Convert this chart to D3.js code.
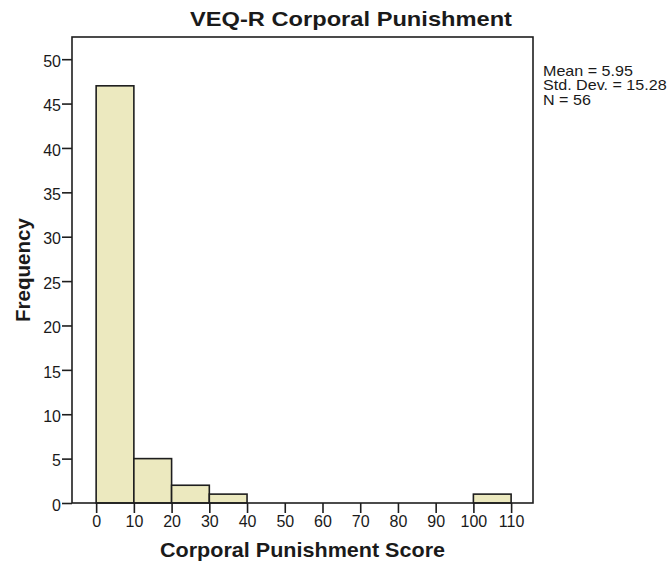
<!DOCTYPE html>
<html>
<head>
<meta charset="utf-8">
<script src="https://cdn.jsdelivr.net/npm/d3@7"></script>
<style>
  body { margin: 0; background: #fff; }
  text { font-family: "Liberation Sans", Arial, sans-serif; fill: #1a1a1a; }
</style>
</head>
<body>
<div class="chart"></div>
<script>
// histogram bins (lower edge, upper edge) and counts
const binStart = [0, 10, 20, 30, 100];
const binEnd = [10, 20, 30, 40, 110];
const counts = [47, 5, 2, 1, 1];
const xTicks = [0, 10, 20, 30, 40, 50, 60, 70, 80, 90, 100, 110];
const yTicks = [0, 5, 10, 15, 20, 25, 30, 35, 40, 45, 50];
const statLines = ["Mean = 5.95", "Std. Dev. = 15.28", "N = 56"];

const width = 668, height = 569;
// plot frame
const frameL = 72, frameR = 533, frameT = 37, frameB = 503;

var svg = d3.select(".chart")
  .append("svg")
    .attr("width", width)
    .attr("height", height);

var x = d3.scaleLinear().domain([-6.4, 115.8]).range([frameL, frameR]);
var y = d3.scaleLinear().domain([0, 52.5]).range([frameB, frameT]);

var bins = counts.map(function(c, i) { return {x0: binStart[i], x1: binEnd[i], n: c}; });

// bars
svg.selectAll("rect.bar")
  .data(bins)
  .enter()
  .append("rect")
    .attr("class", "bar")
    .attr("x", function(d) { return x(d.x0); })
    .attr("width", function(d) { return x(d.x1) - x(d.x0); })
    .attr("y", function(d) { return y(d.n); })
    .attr("height", function(d) { return y(0) - y(d.n); })
    .attr("fill", "#ece9bf")
    .attr("stroke", "#1e1e1e")
    .style("stroke-width", "1.6px");

// frame
svg.append("rect")
  .attr("x", frameL)
  .attr("y", frameT)
  .attr("width", frameR - frameL)
  .attr("height", frameB - frameT)
  .attr("fill", "none")
  .attr("stroke", "#1e1e1e")
  .style("stroke-width", "1.6px");

// x axis
var xAxis = svg.append("g")
  .attr("transform", "translate(0," + frameB + ")")
  .call(d3.axisBottom(x).tickValues(xTicks).tickSize(10).tickPadding(3).tickSizeOuter(0));
xAxis.select(".domain").remove();
xAxis.selectAll("line").attr("stroke", "#1e1e1e").style("stroke-width", "1.6px");
xAxis.selectAll("text").style("font-size", "16px").attr("fill", "#1a1a1a");

// y axis
var yAxis = svg.append("g")
  .attr("transform", "translate(" + frameL + ",0)")
  .call(d3.axisLeft(y).tickValues(yTicks).tickSize(10).tickPadding(1).tickSizeOuter(0));
yAxis.select(".domain").remove();
yAxis.selectAll("line").attr("stroke", "#1e1e1e").style("stroke-width", "1.6px");
yAxis.selectAll("text").style("font-size", "16px").attr("fill", "#1a1a1a").attr("dy", "0.45em");

// title (the scanned original is a bit wider than the font, so stretch it)
svg.append("text")
  .attr("x", 351)
  .attr("y", 26)
  .attr("text-anchor", "middle")
  .attr("textLength", 322)
  .attr("lengthAdjust", "spacingAndGlyphs")
  .style("font-size", "21px")
  .style("font-weight", "bold")
  .text("VEQ-R Corporal Punishment");

// axis titles
svg.append("text")
  .attr("x", (frameL + frameR) / 2)
  .attr("y", 557)
  .attr("text-anchor", "middle")
  .attr("textLength", 285)
  .attr("lengthAdjust", "spacingAndGlyphs")
  .style("font-size", "21px")
  .style("font-weight", "bold")
  .text("Corporal Punishment Score");

svg.append("text")
  .attr("transform", "translate(30," + (frameT + frameB) / 2 + ") rotate(-90)")
  .attr("text-anchor", "middle")
  .attr("textLength", 104)
  .attr("lengthAdjust", "spacingAndGlyphs")
  .style("font-size", "21px")
  .style("font-weight", "bold")
  .text("Frequency");

// stats box
var stats = svg.append("g")
  .attr("transform", "translate(543,0) scale(1.15,1)");
stats.selectAll("text.stat")
  .data(statLines)
  .enter()
  .append("text")
    .attr("class", "stat")
    .attr("x", 0)
    .attr("y", function(d, i) { return 76 + i * 14.5; })
    .style("font-size", "14px")
    .text(function(d) { return d; });
</script>
</body>
</html>
